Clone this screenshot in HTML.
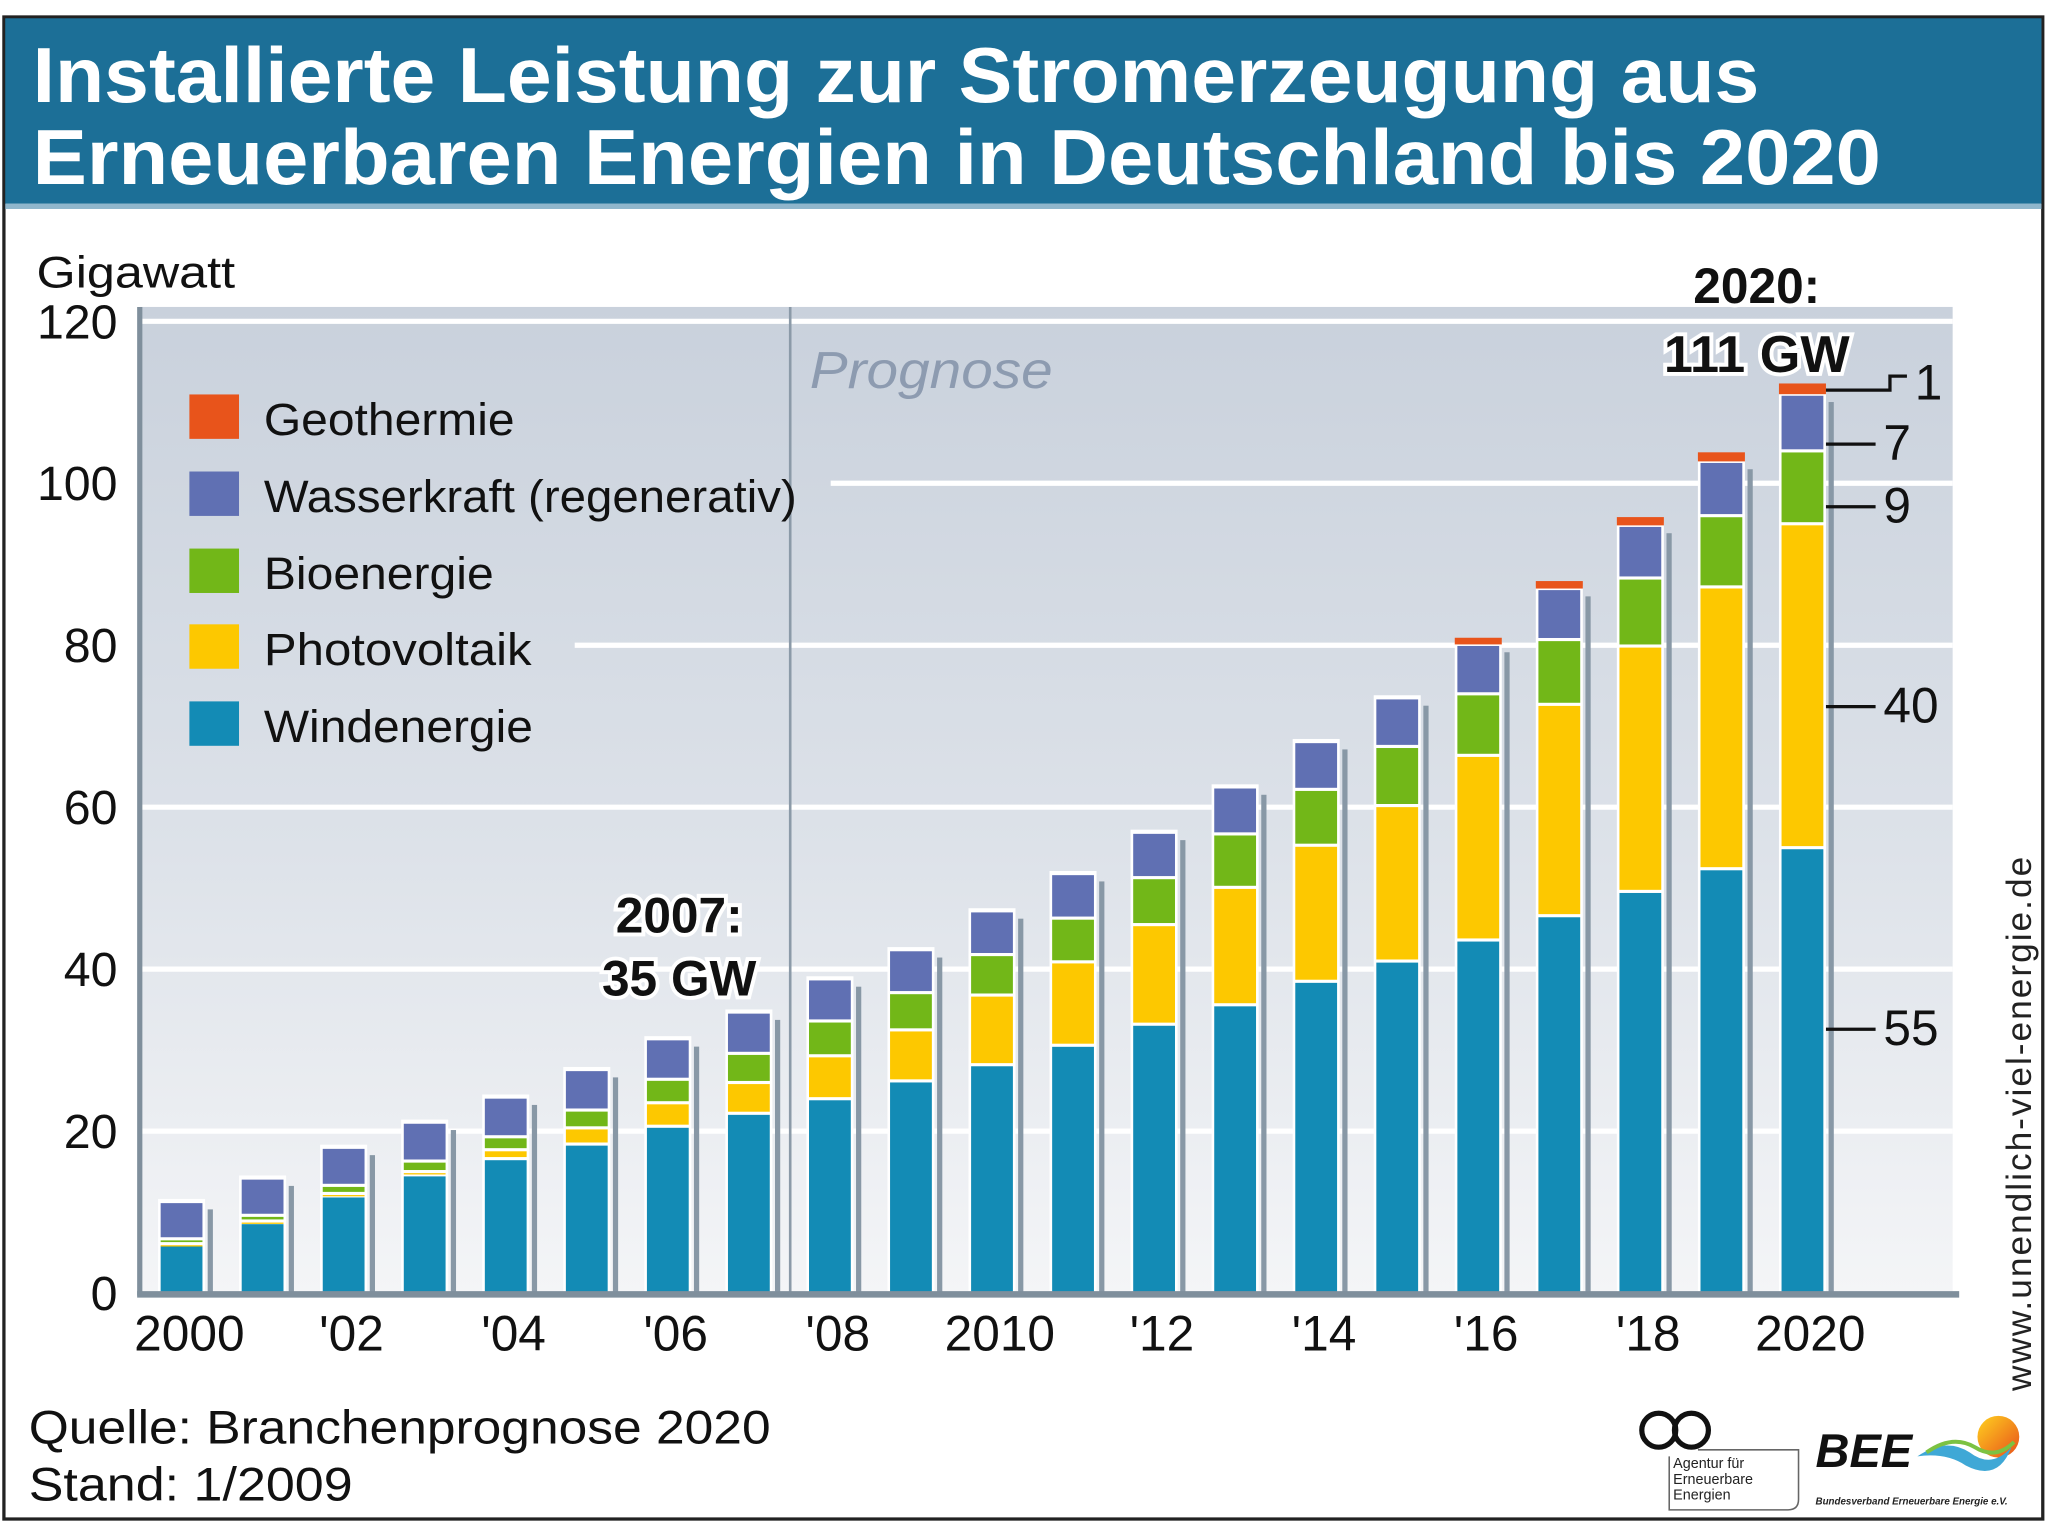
<!DOCTYPE html>
<html><head><meta charset="utf-8"><style>
html,body{margin:0;padding:0;background:#fff;}
svg{display:block;font-family:"Liberation Sans",sans-serif;}
</style></head><body>
<svg id="chart" width="2048" height="1536" viewBox="0 0 1568 1176" preserveAspectRatio="none" xmlns="http://www.w3.org/2000/svg">
<defs>
<linearGradient id="bg" x1="0" y1="0" x2="0" y2="1">
<stop offset="0" stop-color="#c9d1dc"/><stop offset="0.55" stop-color="#dde2e9"/><stop offset="1" stop-color="#f4f5f7"/>
</linearGradient>
<linearGradient id="sun" x1="0" y1="0" x2="1" y2="1"><stop offset="0" stop-color="#ffd21f"/><stop offset="1" stop-color="#e8501a"/></linearGradient>
</defs>
<rect x="0" y="0" width="1568" height="1176" fill="#fff"/>
<rect x="3" y="13" width="1561" height="1150" fill="none" stroke="#222" stroke-width="2.5"/>
<rect x="4" y="14" width="1559" height="142" fill="#1c6f97"/>
<rect x="4" y="156" width="1559" height="4" fill="#8fb6cc"/>
<text x="25" y="78" font-size="60" font-weight="bold" fill="#fff" textLength="1322" lengthAdjust="spacingAndGlyphs">Installierte Leistung zur Stromerzeugung aus</text>
<text x="25" y="141" font-size="60" font-weight="bold" fill="#fff" textLength="1415" lengthAdjust="spacingAndGlyphs">Erneuerbaren Energien in Deutschland bis 2020</text>

<rect x="107" y="235" width="1388" height="755" fill="url(#bg)"/>
<g id="grid"></g>
<line x1="605" y1="235" x2="605" y2="990" stroke="#8b9aa8" stroke-width="2"/>
<text x="620" y="297" font-size="40" font-style="italic" fill="#8d9bb0" textLength="186" lengthAdjust="spacingAndGlyphs">Prognose</text>
<g id="bars"></g>
<line x1="107" y1="235" x2="107" y2="992" stroke="#7f8f9c" stroke-width="4"/>
<line x1="105" y1="991" x2="1500" y2="991" stroke="#7f8f9c" stroke-width="5"/>
<g id="yticks"></g>
<g id="xticks"></g>
<text x="28" y="220" font-size="34" fill="#111" textLength="152" lengthAdjust="spacingAndGlyphs">Gigawatt</text>

<g>
<rect x="145" y="302" width="38" height="34" fill="#e8541b"/>
<text x="202" y="333" font-size="35" fill="#111" textLength="192" lengthAdjust="spacingAndGlyphs">Geothermie</text>
<rect x="145" y="361" width="38" height="34" fill="#6070b3"/>
<text x="202" y="392" font-size="35" fill="#111" textLength="408" lengthAdjust="spacingAndGlyphs">Wasserkraft (regenerativ)</text>
<rect x="145" y="420" width="38" height="34" fill="#72b718"/>
<text x="202" y="451" font-size="35" fill="#111" textLength="176" lengthAdjust="spacingAndGlyphs">Bioenergie</text>
<rect x="145" y="478" width="38" height="34" fill="#fdc800"/>
<text x="202" y="509" font-size="35" fill="#111" textLength="205" lengthAdjust="spacingAndGlyphs">Photovoltaik</text>
<rect x="145" y="537" width="38" height="34" fill="#138bb5"/>
<text x="202" y="568" font-size="35" fill="#111" textLength="206" lengthAdjust="spacingAndGlyphs">Windenergie</text>
</g>

<text x="520" y="714" font-size="38" font-weight="bold" text-anchor="middle" fill="#111" stroke="#fff" stroke-width="6" paint-order="stroke">2007:</text>
<text x="520" y="762" font-size="38" font-weight="bold" text-anchor="middle" fill="#111" stroke="#fff" stroke-width="6" paint-order="stroke">35 GW</text>
<text x="1345" y="232" font-size="38" font-weight="bold" text-anchor="middle" fill="#111" stroke="#fff" stroke-width="6" paint-order="stroke">2020:</text>
<text x="1345" y="285" font-size="40" font-weight="bold" text-anchor="middle" fill="#111" stroke="#fff" stroke-width="6" paint-order="stroke">111 GW</text>
<g id="callouts"></g>

<text transform="translate(1555,860) rotate(-90)" font-size="27" text-anchor="middle" fill="#222" letter-spacing="1" textLength="410">www.unendlich-viel-energie.de</text>
<text x="22" y="1105" font-size="36" fill="#111" textLength="568" lengthAdjust="spacingAndGlyphs">Quelle: Branchenprognose 2020</text>
<text x="22" y="1149" font-size="36" fill="#111" textLength="248" lengthAdjust="spacingAndGlyphs">Stand: 1/2009</text>

<g>
<circle cx="1270" cy="1095" r="13" fill="none" stroke="#111" stroke-width="4"/>
<circle cx="1295" cy="1095" r="13" fill="none" stroke="#111" stroke-width="4"/>
<path d="M1300 1110 H1377 V1148 Q1377 1156 1369 1156 H1278 V1115" fill="none" stroke="#666" stroke-width="1.2"/>
<text x="1281" y="1124" font-size="11" fill="#222">Agentur für</text>
<text x="1281" y="1136" font-size="11" fill="#222">Erneuerbare</text>
<text x="1281" y="1148" font-size="11" fill="#222">Energien</text>
</g>
<g>
<text x="1390" y="1123" font-size="36" font-weight="bold" font-style="italic" fill="#111">BEE</text>
<circle cx="1530" cy="1100" r="16" fill="url(#sun)"/>
<path d="M1468 1115 Q1490 1100 1508 1112 Q1525 1125 1540 1108 Q1530 1135 1505 1122 Q1490 1112 1468 1115Z" fill="#3fa8d6"/>
<path d="M1475 1112 Q1495 1098 1512 1108 Q1528 1118 1542 1104" fill="none" stroke="#7cc242" stroke-width="3"/>
<text x="1390" y="1152" font-size="7.5" font-style="italic" font-weight="bold" fill="#222">Bundesverband Erneuerbare Energie e.V.</text>
</g>

<script>
const years = ["2000","2001","2002","2003","2004","2005","2006","2007","2008","2009","2010","2011","2012","2013","2014","2015","2016","2017","2018","2019","2020"];
const xLabels = ["2000","","'02","","'04","","'06","","'08","","2010","","'12","","'14","","'16","","'18","","2020"];
const wind = [6,8.7,12,14.6,16.6,18.4,20.6,22.2,24,26.2,28.2,30.6,33.2,35.6,38.5,41,43.6,46.6,49.6,52.4,55];
const pv = [0.1,0.2,0.3,0.4,1.1,2,2.9,3.8,5.3,6.3,8.6,10.3,12.3,14.5,16.8,19.2,22.8,26.1,30.3,34.8,40];
const bio = [0.6,0.7,1.0,1.3,1.6,2.2,2.9,3.6,4.3,4.6,5,5.4,5.8,6.6,6.9,7.3,7.6,8,8.4,8.8,9];
const hydro = [4.6,4.6,4.7,4.8,4.9,5,5,5.1,5.2,5.3,5.4,5.5,5.6,5.8,5.9,6,6.1,6.3,6.5,6.7,7];
const geo = [0,0,0,0,0,0,0,0,0,0,0,0,0,0,0,0,0.5,0.6,0.7,0.8,1];
const yTicks = [0,20,40,60,80,100,120];
const calloutValues = ["1","7","9","40","55"];

const NS="http://www.w3.org/2000/svg";
const y = v => 990 - v*6.2;
const xc = i => 139 + i*62.05;
const BW = 32;
function mk(tag, attrs, parent){const e=document.createElementNS(NS,tag);for(const k in attrs)e.setAttribute(k,attrs[k]);parent.appendChild(e);return e;}

const grid=document.getElementById('grid');
const gridStart={0:107,20:107,40:107,60:107,80:440,100:636,120:107};
yTicks.forEach(t=>{
  if(t>0){const l=mk('line',{x1:gridStart[t],x2:1495,y1:y(t),y2:y(t),stroke:'#fff','stroke-width':4},grid);
  
  }
  const tx=mk('text',{x:90,y:y(t)+13,'font-size':37,'text-anchor':'end',fill:'#111'},document.getElementById('yticks'));
  tx.textContent=t;
  
  
});

const bars=document.getElementById('bars');
const series=[[wind,'#138bb5','wind'],[pv,'#fdc800','pv'],[bio,'#72b718','bio'],[hydro,'#6070b3','hydro']];
years.forEach((yr,i)=>{
  const g=mk('g',{},bars);
  
  
  const total=wind[i]+pv[i]+bio[i]+hydro[i]+geo[i];
  const x0=xc(i)-BW/2;
  const sh=mk('rect',{x:x0+BW+4,y:y(total-geo[i])+6,width:4,height:990-y(total-geo[i])-6,fill:'#8898a6'},g);
  
  
  mk('rect',{x:x0-2,y:y(total-geo[i])-2,width:BW+4,height:990-y(total-geo[i])+2,fill:'#fff'},g);
  let base=0;
  series.forEach(([arr,col,nm])=>{
    const v=arr[i];
    if(v<=0)return;
    const top=y(base+v),bot=y(base);
    const r=mk('rect',{x:x0,y:top+1.2,width:BW,height:Math.max(bot-top-2.4,1),fill:col},g);
    
    
    base+=v;
  });
  if(geo[i]>0){
    const r=mk('rect',{x:x0-2,y:y(base+geo[i])-2,width:BW+4,height:Math.max(y(base)-y(base+geo[i])+2,5),fill:'#e8541b'},g);
    
    
  }
  if(xLabels[i]){
    const t=mk('text',{x:xc(i)+6,y:1034,'font-size':38,'text-anchor':'middle',fill:'#111'},document.getElementById('xticks'));
    t.textContent=xLabels[i];
    
    
  }
});

const co=document.getElementById('callouts');
const L=20, lx=xc(L)+BW/2+2;
const mids=[y(wind[L]+pv[L]+bio[L]+hydro[L]+geo[L]/2), y(wind[L]+pv[L]+bio[L]+hydro[L]/2), y(wind[L]+pv[L]+bio[L]/2), y(wind[L]+pv[L]/2), y(wind[L]/2)];
const labelY=[306,352,400,553,800];
calloutValues.forEach((v,k)=>{
  let p;
  if(k===0) p=mk('path',{d:`M${lx} ${mids[0]} H1447 V${labelY[0]-18} H1460`,fill:'none',stroke:'#111','stroke-width':2.5},co);
  else p=mk('line',{x1:lx,x2:1436,y1:labelY[k]-12,y2:labelY[k]-12,stroke:'#111','stroke-width':2.5},co);
  
  
  const t=mk('text',{x:k===0?1466:1442,y:labelY[k],'font-size':38,fill:'#111'},co);
  t.textContent=v;
  
  
});
</script>
</svg>
</body></html>
